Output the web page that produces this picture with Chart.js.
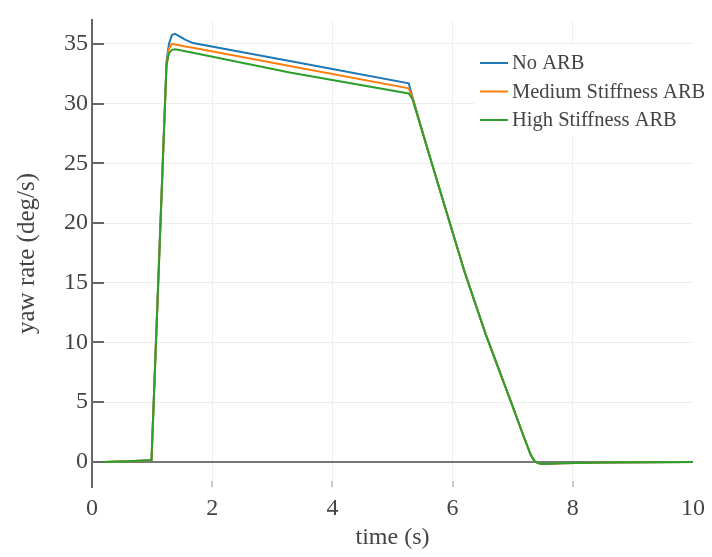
<!DOCTYPE html>
<html>
<head>
<meta charset="utf-8">
<script src="https://cdn.jsdelivr.net/npm/chart.js@4.4.0/dist/chart.umd.min.js"></script>
<style>
  html, body { margin: 0; padding: 0; background: #fff; }
</style>
</head>
<body>
<canvas id="myChart" width="712" height="557"></canvas>
<script>
// time axis (s)
const time = [0.2, 0.6, 0.99, 1.24, 1.28, 1.33, 1.38, 1.45, 1.55, 1.68, 3.29, 5.27, 5.33, 5.6, 5.9, 6.2, 6.55, 6.97, 7.2, 7.3, 7.36, 7.42, 7.5, 7.8, 8.5, 10];

// yaw rate (deg/s) per configuration
const noArb     = [0, 0.05, 0.15, 33.5, 35.0, 35.75, 35.85, 35.65, 35.35, 35.07, 33.57, 31.7, 30.6, 25.9, 20.9, 15.9, 10.7, 5.05, 1.9, 0.6, 0.1, -0.1, -0.18, -0.12, -0.04, 0];
const mediumArb = [0, 0.05, 0.15, 33.3, 34.6, 35.0, 34.95, 34.88, 34.79, 34.67, 33.14, 31.28, 30.5, 25.9, 20.9, 15.9, 10.7, 5.05, 1.9, 0.6, 0.1, -0.1, -0.18, -0.12, -0.04, 0];
const highArb   = [0, 0.05, 0.15, 33.2, 34.2, 34.5, 34.55, 34.48, 34.38, 34.25, 32.6, 30.85, 30.4, 25.9, 20.9, 15.9, 10.7, 5.05, 1.9, 0.6, 0.1, -0.1, -0.18, -0.12, -0.04, 0];

const seriesNames = ['No ARB', 'Medium Stiffness ARB', 'High Stiffness ARB'];
const seriesColors = ['#1f77b4', '#ff7f0e', '#2ca02c'];

// tick labels
const xTicks = [0, 2, 4, 6, 8, 10];
const yTicks = [0, 5, 10, 15, 20, 25, 30, 35];

const fontFamily = '"Liberation Serif", "Times New Roman", serif';
const textColor = '#444';

function toPoints(ys) {
  return ys.map((y, i) => ({x: time[i], y: y}));
}

// axis ticks drawn inside the plot, as in the figure
const innerTicks = {
  id: 'innerTicks',
  beforeDatasetsDraw(chart) {
    const {ctx, chartArea, scales} = chart;
    ctx.save();
    ctx.strokeStyle = '#666';
    ctx.lineWidth = 2;
    scales.y.ticks.forEach((t) => {
      const py = Math.round(scales.y.getPixelForValue(t.value));
      ctx.beginPath();
      ctx.moveTo(chartArea.left, py);
      ctx.lineTo(chartArea.left + 12, py);
      ctx.stroke();
    });
    ctx.strokeStyle = '#bbb';
    ctx.lineWidth = 1.5;
    scales.x.ticks.forEach((t) => {
      if (t.value === 0 || t.value === 10) return;
      const px = Math.round(scales.x.getPixelForValue(t.value));
      ctx.beginPath();
      ctx.moveTo(px, chartArea.bottom - 6);
      ctx.lineTo(px, chartArea.bottom);
      ctx.stroke();
    });
    ctx.restore();
  }
};

// legend box in the upper right of the plot
const insideLegend = {
  id: 'insideLegend',
  afterDatasetsDraw(chart) {
    const {ctx} = chart;
    ctx.save();
    ctx.fillStyle = '#fff';
    ctx.fillRect(474, 45, 236, 91);
    ctx.font = '20.5px ' + fontFamily;
    ctx.textBaseline = 'middle';
    ctx.textAlign = 'left';
    seriesNames.forEach((name, i) => {
      const y = 63 + i * 28.5;
      ctx.strokeStyle = seriesColors[i];
      ctx.lineWidth = 2;
      ctx.beginPath();
      ctx.moveTo(480, y);
      ctx.lineTo(508, y);
      ctx.stroke();
      ctx.fillStyle = textColor;
      ctx.fillText(name, 512, y + 1);
    });
    ctx.restore();
  }
};

const ctx = document.getElementById('myChart');

const myChart = new Chart(ctx, {
  type: 'line',
  data: {
    datasets: [noArb, mediumArb, highArb].map((ys, i) => ({
      label: seriesNames[i],
      data: toPoints(ys),
      borderColor: seriesColors[i],
      backgroundColor: seriesColors[i],
      borderWidth: 2,
      pointRadius: 0,
      tension: 0,
      fill: false,
      order: 2 - i // last series on top
    }))
  },
  options: {
    responsive: false,
    animation: false,
    devicePixelRatio: 1,
    layout: {padding: {top: 20, right: 18, left: 0, bottom: 0}},
    plugins: {
      legend: {display: false},
      tooltip: {enabled: false}
    },
    scales: {
      x: {
        type: 'linear',
        min: 0,
        max: 10,
        afterBuildTicks(scale) {
          scale.ticks = xTicks.map((v) => ({value: v}));
        },
        afterFit(scale) {
          scale.height = 70;
        },
        border: {display: false},
        grid: {
          drawTicks: false,
          color: (c) => (c.tick && (c.tick.value === 0 || c.tick.value === 10)) ? 'rgba(0,0,0,0)' : '#eeeeee',
          lineWidth: 1
        },
        ticks: {
          padding: 7,
          color: textColor,
          font: {family: fontFamily, size: 24},
          maxRotation: 0
        },
        title: {
          display: true,
          text: 'time (s)',
          color: textColor,
          font: {family: fontFamily, size: 24},
          padding: {top: 0, bottom: 5}
        }
      },
      y: {
        type: 'linear',
        min: -2.1,
        max: 37,
        afterBuildTicks(scale) {
          scale.ticks = yTicks.map((v) => ({value: v}));
        },
        afterFit(scale) {
          scale.width = 92;
        },
        border: {display: true, color: '#666', width: 2},
        grid: {
          drawTicks: false,
          color: (c) => (c.tick && c.tick.value === 0) ? '#777' : '#eeeeee',
          lineWidth: (c) => (c.tick && c.tick.value === 0) ? 2 : 1
        },
        ticks: {
          padding: 4,
          color: textColor,
          font: {family: fontFamily, size: 24}
        },
        title: {
          display: true,
          text: 'yaw rate (deg/s)',
          color: textColor,
          font: {family: fontFamily, size: 25},
          padding: {top: 12, bottom: 0}
        }
      }
    }
  },
  plugins: [innerTicks, insideLegend]
});
</script>
</body>
</html>
